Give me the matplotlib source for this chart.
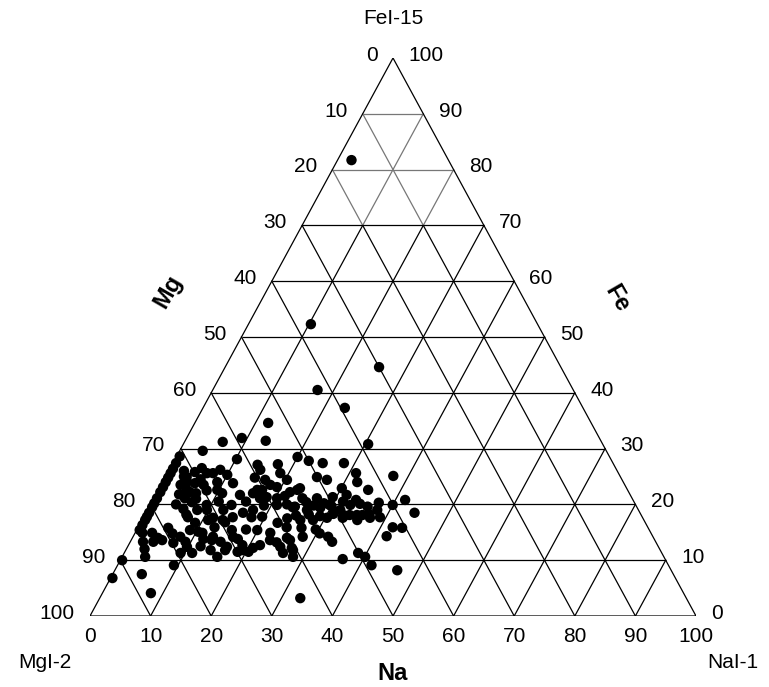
import numpy as np
import matplotlib
matplotlib.use("Agg")
import matplotlib.pyplot as plt

# ---- data: Na (%) and Fe (%) for each sample; Mg = 100 - Na - Fe ----
na_vals = [2.3, 10.3, 25.4, 17.3, 23.4, 12.1, 9.1, 13.3, 6.3, 30.5, 3.8, 10.2, 14.1, 17.4,
           20.0, 22.2, 24.7, 28.2, 31.1, 37.5, 32.1, 20.3, 25.0, 26.9, 30.1, 34.6, 23.2,
           21.4, 24.5, 26.9, 29.4, 31.5, 33.5, 41.6, 40.0, 44.3, 23.7, 26.3, 28.3, 29.6,
           31.8, 33.8, 35.9, 37.9, 39.0, 26.1, 28.2, 30.3, 32.9, 35.5, 37.4, 42.0, 43.6,
           41.8, 24.5, 28.0, 32.2, 33.3, 26.2, 27.6, 26.2, 28.2, 36.6, 38.6, 40.1, 41.9,
           46.6, 33.1,
           0.5, 0.5, 0.5, 0.5, 0.5, 0.5, 0.5, 0.5, 0.5, 0.5, 0.5, 0.5, 0.5, 0.5, 0.5, 0.5,
           0.3, 0.3,
           3.2, 4.0, 5.4, 5.4, 5.1, 6.6, 5.2, 3.5, 4.4, 6.5, 7.5, 8.4, 10.0, 11.7, 9.7, 4.7,
           8.2, 9.8, 11.5, 13.3, 14.7, 13.9, 15.9, 17.1, 18.5, 19.3, 21.9, 16.7, 15.0, 18.6,
           18.0, 16.3, 17.5, 20.3, 22.9, 13.4, 9.3, 17.4, 20.9, 8.8, 10.3, 7.8, 7.2, 9.8,
           9.3, 13.2, 14.9, 16.5, 16.4, 18.8, 18.6, 20.8, 21.7, 22.3, 22.6, 25.2, 25.5,
           27.2, 15.7, 1.2, 2.8, 4.2, 2.1, 3.8, 5.0, 4.8, 8.0, 3.8, 9.3, 11.2, 5.1, 9.1,
           7.3, 9.0, 11.1, 13.3, 16.4, 19.2, 20.4, 17.8, 15.7, 13.9, 12.6, 10.9, 19.9, 22.9,
           22.5, 24.0, 25.5, 27.0, 28.5, 30.0, 31.5, 33.0, 34.5, 36.0, 37.5,
           25.0, 27.0, 29.0, 31.0, 33.0, 35.0, 37.0,
           2.5, 3.0, 6.0, 7.0, 8.0, 6.5, 3.8, 4.2, 5.8, 7.0, 9.0, 10.8, 11.0, 12.5, 6.8,
           14.8, 15.5, 18.8, 19.5, 16.0,
           12.0, 14.0, 17.5, 18.0, 11.8, 6.2, 3.0,
           23.8, 24.2, 27.0, 29.5, 30.5]
fe_vals = [81.7, 52.3, 44.6, 40.5, 37.3, 34.6, 31.9, 31.4, 31.2, 30.8, 29.6, 28.1, 27.1, 27.2,
           28.5, 27.8, 27.4, 27.4, 25.6, 25.1, 24.0, 24.4, 24.9, 24.4, 22.9, 22.6, 22.9,
           21.5, 21.1, 21.1, 21.3, 21.7, 20.8, 20.8, 19.9, 18.5, 19.5, 19.0, 19.4, 19.9,
           19.0, 18.1, 18.1, 19.0, 17.7, 17.2, 17.2, 17.6, 17.6, 17.2, 17.6, 15.9, 15.8,
           14.3, 15.9, 14.2, 14.2, 13.3, 13.6, 11.8, 11.3, 10.6, 10.2, 11.3, 10.6, 9.1,
           8.2, 3.2,
           28.6, 27.4, 26.4, 25.6, 24.8, 24.0, 23.1, 22.2, 21.1, 20.2, 19.5, 18.5, 17.8,
           17.2, 16.3, 15.4,
           10.0, 6.8,
           23.5, 24.0, 23.8, 22.2, 21.1, 20.4, 26.5, 24.9, 25.8, 25.6, 25.6, 26.2, 25.3,
           23.8, 22.6, 22.6, 19.0, 19.0, 17.6, 17.2, 17.7, 21.7, 22.0, 22.6, 21.3, 23.1,
           22.2, 24.4, 26.2, 25.6, 23.5, 22.6, 21.1, 21.1, 22.6, 19.9, 19.9, 19.0, 19.9,
           15.4, 15.1, 14.2, 13.1, 12.4, 11.3, 14.2, 13.3, 14.2, 12.4, 12.7, 11.5, 12.2,
           12.7, 14.9, 16.7, 12.4, 14.0, 12.2, 10.6, 14.9, 14.9, 14.0, 13.3, 13.3, 15.8,
           7.5, 4.1, 10.6, 9.1, 11.3, 13.6, 13.3, 17.7, 16.7, 14.9, 13.6, 11.8, 11.8, 11.5,
           17.7, 15.4, 16.8, 15.9, 17.2, 15.4, 13.6,
           20.0, 19.6, 20.4, 19.8, 20.2, 19.7, 20.5, 19.9, 20.1, 19.6, 20.3,
           18.0, 18.2, 17.9, 18.3, 18.0, 18.1, 18.2,
           26.0, 25.0, 24.5, 23.5, 22.5, 22.0, 21.8, 20.0, 19.2, 21.0, 24.0, 22.0, 20.5,
           19.0, 18.2,
           24.8, 20.5, 19.8, 17.8, 18.5,
           12.5, 11.8, 13.8, 15.5, 13.8, 14.8, 12.0,
           17.5, 13.2, 15.8, 15.5, 14.8]

tick_values = [0, 10, 20, 30, 40, 50, 60, 70, 80, 90, 100]
apex_label = "FeI-15"
left_label = "MgI-2"
right_label = "NaI-1"
axis_na = "Na"
axis_mg = "Mg"
axis_fe = "Fe"

FONT = ["Liberation Sans", "DejaVu Sans"]

W, H = 769, 687
fig = plt.figure(figsize=(W / 100, H / 100), dpi=100)
fig.patch.set_facecolor("white")
# triangle: base from x=90 to 696 px, at y=616 px; apex at y=58 px
ax = fig.add_axes([90 / W, (H - 616) / H, 606 / W, 558 / H])
ax.set_xlim(0, 100)
ax.set_ylim(0, 100)
ax.axis("off")


def tx(na, fe):
    na = np.asarray(na, dtype=float)
    fe = np.asarray(fe, dtype=float)
    return na + fe / 2.0, fe


lw = 0.9
GRAY = "#777777"
# grid lines
for v in tick_values[1:-1]:
    col = GRAY if v >= 80 else "black"
    # constant Fe (horizontal)
    x0, y0 = tx(0, v)
    x1, y1 = tx(100 - v, v)
    ax.plot([x0, x1], [y0, y1], color=col, lw=lw, solid_capstyle="butt")
    # constant Na (parallel to left edge)
    xa, ya = tx(v, 0)
    xb, yb = tx(v, 100 - v)
    if 100 - v > 70:
        xm, ym = tx(v, 70)
        ax.plot([xa, xm], [ya, ym], color="black", lw=lw)
        ax.plot([xm, xb], [ym, yb], color=GRAY, lw=lw)
    else:
        ax.plot([xa, xb], [ya, yb], color="black", lw=lw)
    # constant Mg (parallel to right edge)
    xa, ya = tx(100 - v, 0)
    xb, yb = tx(0, 100 - v)
    if 100 - v > 70:
        xm, ym = tx(30 - v, 70)
        ax.plot([xa, xm], [ya, ym], color="black", lw=lw)
        ax.plot([xm, xb], [ym, yb], color=GRAY, lw=lw)
    else:
        ax.plot([xa, xb], [ya, yb], color="black", lw=lw)

# outline
ox, oy = tx([0, 100, 0, 0], [0, 0, 100, 0])
ax.plot(ox, oy, color="black", lw=lw)

# data points
px, py = tx(na_vals, fe_vals)
ax.scatter(px, py, s=56, color="black", edgecolors="none", zorder=5, clip_on=False)

fs = 15
# bottom (Na) ticks
for v in tick_values:
    x, y = tx(v, 0)
    ax.annotate(str(v), (x, y), xytext=(0, -8), textcoords="offset points",
                ha="center", va="top", fontsize=fs, family=FONT)
# left (Mg) labels at left edge, value = Mg at that point
for v in tick_values:
    x, y = tx(0, 100 - v)
    ax.annotate(str(v), (x, y), xytext=(-11, 2), textcoords="offset points",
                ha="right", va="center", fontsize=fs, family=FONT)
# right (Fe) labels at right edge
for v in tick_values:
    x, y = tx(100 - v, v)
    ax.annotate(str(v), (x, y), xytext=(11, 2), textcoords="offset points",
                ha="left", va="center", fontsize=fs, family=FONT)

fig.text(393 / W, 1 - 19 / H, apex_label, ha="center", va="center", fontsize=fs, family=FONT)
fig.text(45 / W, 1 - 662 / H, left_label, ha="center", va="center", fontsize=fs, family=FONT)
fig.text(733 / W, 1 - 662 / H, right_label, ha="center", va="center", fontsize=fs, family=FONT)
fig.text(393 / W, 1 - 673 / H, axis_na, ha="center", va="center", fontsize=17,
         fontweight="bold", family=FONT)
fig.text(168 / W, 1 - 291 / H, axis_mg, ha="center", va="center", fontsize=17,
         fontweight="bold", family=FONT, rotation=60)
fig.text(617 / W, 1 - 299 / H, axis_fe, ha="center", va="center", fontsize=17,
         fontweight="bold", family=FONT, rotation=-60)

fig.savefig("out.png", dpi=100, facecolor="white")
